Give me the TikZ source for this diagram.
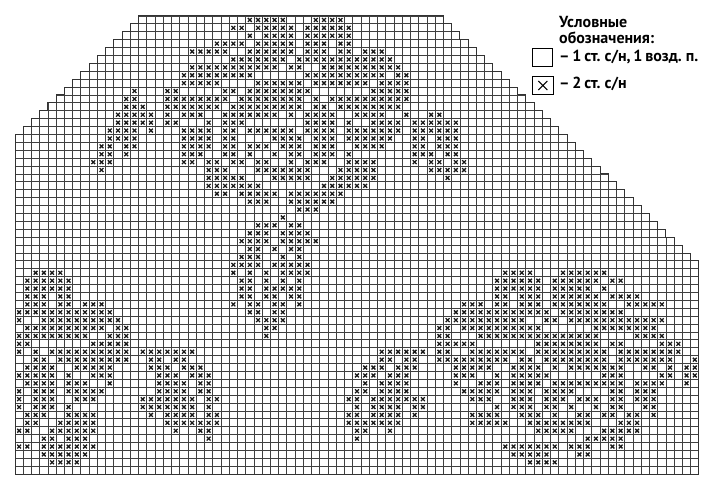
\documentclass[tikz,border=0pt]{standalone}
\usepackage{fontspec}
\setmainfont{PT Sans}
\newcommand{\legfont}{\fontsize{16}{19}\selectfont\bfseries\spaceskip 0.17em plus 0.05em\relax}
\begin{document}
\begin{tikzpicture}[x=1pt,y=-1pt,
  gridline/.style={draw=black!75, line width=0.9pt},
  outline/.style={draw=black!80, line width=1pt},
  xmark/.style={draw=black!90, line width=1.3pt},
  legendtext/.style={font={\legfont}, anchor=base west, inner sep=0pt},
  legendbox/.style={draw=black, line width=1.1pt, minimum width=20.5pt, minimum height=18.5pt, inner sep=0pt}]
\useasboundingbox (0,0) rectangle (710,484);
\fill[white] (0,0) rectangle (710,484);
\begin{scope}[shift={(15,16)}, x=8.24pt, y=-7.9pt]
  \begin{scope}
    \clip (15,0) -- (52,0) \foreach \r in {0,...,30} { -- (52+\r,\r+1) -- (53+\r,\r+1)} -- (83,58) -- (0,58) -- (0,15) \foreach \k in {1,...,15} { -- (\k,16-\k) -- (\k,15-\k)} -- cycle;
    \foreach \c in {0,...,83} \draw[gridline] (\c,0) -- (\c,58);
    \foreach \r in {0,...,58} \draw[gridline] (0,\r) -- (83,\r);
  \end{scope}
  \draw[outline] (15,0) -- (52,0) \foreach \r in {0,...,30} { -- (52+\r,\r+1) -- (53+\r,\r+1)} -- (83,58) -- (0,58) -- (0,15) \foreach \k in {1,...,15} { -- (\k,16-\k) -- (\k,15-\k)} -- cycle;
  \foreach \r/\segs in {
   0/{28/32,36/39},
   1/{26/27,29/33,35/40},
   2/{28/28,30/33,35/40},
   3/{24/27,29/33,35/37,39/40},
   4/{21/25,28/33,35/37,39/40,42/44},
   5/{26/32,34/45},
   6/{21/31,33/34,37/46},
   7/{20/28,35/44,46/47},
   8/{20/24,29/34,36/42,44/47},
   9/{14/14,18/19,25/26,28/35,43/47},
   10/{13/14,18/25,27/34,36/36,38/47},
   11/{13/15,18/24,26/34,36/37,39/46},
   12/{12/16,18/18,20/22,25/31,33/33,35/38,41/44,47/47,50/51},
   13/{12/16,18/19,23/23,25/27,35/38,40/40,43/46,48/53},
   14/{11/14,16/16,20/23,25/26,28/33,35/38,40/46,48/53},
   15/{11/14,20/23,25/26,31/34,36/38,40/45,48/49,51/53},
   16/{10/11,13/14,20/23,25/26,28/30,32/34,36/38,41/44,48/49,51/53},
   17/{10/11,13/13,20/22,25/26,28/28,31/31,33/34,36/38,40/40,48/50,52/53},
   18/{9/11,20/21,23/24,26/27,29/30,33/33,35/37,40/43,48/48,50/51,53/54},
   19/{10/10,23/25,29/35,39/43,50/54},
   20/{23/27,31/35,38/43,52/52},
   21/{23/29,37/42},
   22/{24/25,27/31,33/39},
   23/{28/30,33/38},
   24/{34/36},
   25/{32/32},
   26/{29/31,33/34},
   27/{28/30,32/35},
   28/{27/30,32/36},
   29/{28/29,31/31,33/34},
   30/{27/29,32/32,34/34},
   31/{26/29,31/35},
   32/{2/5,26/26,28/28,30/30,32/35,59/62,66/71},
   33/{1/6,27/28,30/30,32/32,34/34,58/63,65/70,72/73},
   34/{1/6,27/28,30/34,58/63,65/69,71/71},
   35/{1/3,5/6,27/28,30/31,33/34,58/59,61/63,65/70,72/75},
   36/{1/3,5/6,8/10,26/26,28/29,31/32,34/34,54/56,58/59,61/63,65/71,74/78},
   37/{0/11,28/29,31/32,53/64,66/73},
   38/{0/0,3/12,29/32,52/61,64/65,67/78},
   39/{1/10,12/13,30/31,51/52,54/63,70/77},
   40/{0/8,11/13,30/30,51/52,56/70,75/78},
   41/{0/1,9/13,51/55,63/70,72/73,78/80},
   42/{0/0,2/2,4/13,15/21,44/49,51/52,55/61,63/71,73/80},
   43/{2/3,5/13,16/17,19/20,44/45,47/48,51/59,61/62,64/71,73/79,82/82},
   44/{1/4,7/11,16/18,20/22,42/44,46/48,53/57,60/63,65/65,67/73,76/77,79/79,81/82},
   45/{0/4,6/6,9/11,17/19,21/23,41/43,45/47,53/55,58/58,60/64,71/73,78/79,81/82},
   46/{1/4,6/8,11/11,17/20,22/23,42/42,44/47,53/53,56/58,60/63,65/73,75/78,81/81},
   47/{0/0,2/4,6/10,17/20,22/23,41/42,44/47,54/58,60/62,64/67,72/73,75/77},
   48/{0/0,2/4,7/9,15/21,23/24,40/41,43/49,55/57,60/62,64/66,68/70,72/73,75/77},
   49/{0/0,2/4,6/6,15/21,23/23,41/41,43/46,48/49,58/58,60/62,64/65,67/67,70/70,72/73,76/77},
   50/{1/3,6/9,16/16,18/21,23/24,40/41,43/46,48/48,55/58,61/63,65/65,68/69,71/72,74/75,77/77},
   51/{1/2,5/9,18/24,40/46,55/59,62/69,73/75},
   52/{0/1,4/9,19/19,22/23,41/42,45/45,63/67,71/75},
   53/{3/4,6/8,23/23,41/41,69/73},
   54/{0/1,3/9,59/65,67/69,72/73},
   55/{3/8,60/64,68/69},
   56/{4/7,62/65}}{
    \foreach \a/\b in \segs {
      \foreach \c in {\a,...,\b} {
        \draw[xmark] (\c+0.5,\r+0.5) ++(-1.9pt,-1.9pt) -- ++(3.8pt,3.8pt) ++(-3.8pt,0pt) -- ++(3.8pt,-3.8pt);
      }
    }
  }
\end{scope}
\node[legendtext] (t1) at (559,27.5) {Условные};
\node[legendtext] (t2) at (559,44) {обозначения:};
\node[legendbox] (box1) at (542.3,57.5) {};
\node[legendtext] (t3) at (559,62) {– 1 ст. с/н, 1 возд. п.};
\node[legendbox] (box2) at (542.8,85.5) {};
\draw[line width=1pt] ([shift={(-4.5pt,-4.5pt)}]box2.center) -- ([shift={(4.5pt,4.5pt)}]box2.center)
                      ([shift={(-4.5pt,4.5pt)}]box2.center) -- ([shift={(4.5pt,-4.5pt)}]box2.center);
\node[legendtext] (t4) at (559,88.5) {– 2 ст. с/н};
\end{tikzpicture}
\end{document}
